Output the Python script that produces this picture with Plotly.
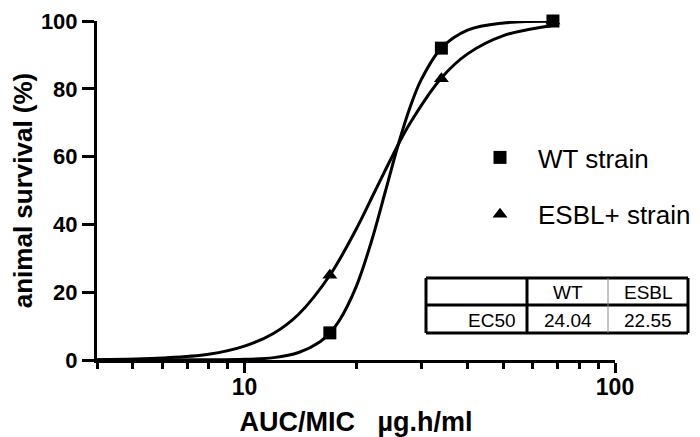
import plotly.graph_objects as go

# ---- data ----
dose = [17, 34, 68]
wt_survival = [8, 92, 100]
esbl_survival = [25, 83, 100]

# fitted dose-response curves
wt_curve_x = [4, 8, 10, 12, 14, 16, 17, 18, 20, 22, 24, 26, 28, 30, 34, 40, 50, 68]
wt_curve_y = [0, 0.04, 0.2, 0.7, 2.2, 5.4, 8, 11.5, 21.5, 34.9, 49.7, 63.5, 74.6, 82.7, 92, 97.3, 99.4, 99.9]
esbl_curve_x = [4, 6, 8, 10, 12, 14, 17, 20, 22.55, 25, 28, 34, 40, 50, 68]
esbl_curve_y = [0.1, 0.6, 1.7, 4.1, 7.9, 13.5, 25, 38.5, 50, 59.9, 69.9, 83.2, 90.3, 95.7, 98.7]

series_names = ["WT strain", "ESBL+ strain"]
table_header = ["", "WT", "ESBL"]
table_row_label = "EC50"
table_values = ["24.04", "22.55"]

y_ticks = [0, 20, 40, 60, 80, 100]
x_ticks = [10, 100]

# ---- layout geometry (pixels) ----
W, H = 700, 437
ML, MR, MT, MB = 89, 93, 13, 85
PW = W - ML - MR
PH = H - MT - MB


def px(xp):
    return (xp - ML) / PW


def py(yp):
    return (H - MB - yp) / PH


FONT = "Liberation Sans, Arial, sans-serif"

fig = go.Figure()

fig.add_trace(go.Scatter(x=wt_curve_x, y=wt_curve_y, mode="lines",
                         line=dict(color="black", width=3, shape="spline"),
                         showlegend=False, hoverinfo="skip", cliponaxis=False))
fig.add_trace(go.Scatter(x=esbl_curve_x, y=esbl_curve_y, mode="lines",
                         line=dict(color="black", width=3, shape="spline"),
                         showlegend=False, hoverinfo="skip", cliponaxis=False))
fig.add_trace(go.Scatter(x=dose, y=esbl_survival, mode="markers", name=series_names[1],
                         marker=dict(symbol="triangle-up", size=13, color="black"),
                         legendgroup="b", legendrank=2, cliponaxis=False))
fig.add_trace(go.Scatter(x=dose, y=wt_survival, mode="markers", name=series_names[0],
                         marker=dict(symbol="square", size=13, color="black"),
                         legendgroup="a", legendrank=1, cliponaxis=False))

fig.update_xaxes(type="log", range=[0.60206, 2], showline=True, linewidth=3, linecolor="black",
                 ticks="outside", ticklen=10, tickwidth=3, tickcolor="black",
                 tickvals=x_ticks, ticktext=[str(v) for v in x_ticks],
                 tickfont=dict(family=FONT, size=23, color="black", weight="bold"),
                 ticklabelstandoff=-6, ticklabeloverflow="allow",
                 minor=dict(ticks="outside", ticklen=6, tickwidth=3, tickcolor="black", dtick="D1"),
                 showgrid=False, zeroline=False,
                 title=dict(text="AUC/MIC\u00a0\u00a0 \u00b5g.h/ml", standoff=14,
                            font=dict(family=FONT, size=27, color="black", weight="bold")))
fig.update_yaxes(range=[0, 100], showline=True, linewidth=3, linecolor="black",
                 ticks="outside", ticklen=12, tickwidth=3, tickcolor="black",
                 tickvals=y_ticks, tickfont=dict(family=FONT, size=22, color="black", weight="bold"),
                 ticklabeloverflow="allow",
                 showgrid=False, zeroline=False,
                 title=dict(text="animal survival (%)", standoff=18,
                            font=dict(family=FONT, size=26, color="black", weight="bold")))

# ---- EC50 table ----
tx0, tx1, tx2, tx3 = 418, 519, 600, 680
ty0, ty1, ty2 = 270, 297, 325
thick = dict(color="black", width=3)
thin = dict(color="#888888", width=1)
for (a, b, c, d, ln) in [
    (tx0, ty0, tx3, ty0, thick), (tx0, ty1, tx3, ty1, thick), (tx0, ty2, tx3, ty2, thick),
    (tx0, ty0, tx0, ty2, thick), (tx1, ty0, tx1, ty2, thick), (tx3, ty0, tx3, ty2, thick),
    (tx2, ty0, tx2, ty2, thin)]:
    fig.add_shape(type="line", xref="paper", yref="paper", x0=px(a), y0=py(b), x1=px(c), y1=py(d),
                  line=ln)

tfont = dict(family=FONT, size=19, color="black")
ymid_h = py((ty0 + ty1) / 2 + 1)
ymid_r = py((ty1 + ty2) / 2 + 1)
cells = [
    (px((tx1 + tx2) / 2), ymid_h, table_header[1], "center"),
    (px((tx2 + tx3) / 2), ymid_h, table_header[2], "center"),
    (px(tx1 - 10), ymid_r, table_row_label, "right"),
    (px((tx1 + tx2) / 2), ymid_r, table_values[0], "center"),
    (px((tx2 + tx3) / 2), ymid_r, table_values[1], "center"),
]
for (cx, cy, txt, anc) in cells:
    fig.add_annotation(x=cx, y=cy, text=txt, showarrow=False, xanchor=anc, yanchor="middle",
                       xref="paper", yref="paper", font=tfont, borderpad=0)

fig.update_layout(
    width=W, height=H, margin=dict(l=ML, r=MR, t=MT, b=MB, autoexpand=False),
    paper_bgcolor="white", plot_bgcolor="white",
    legend=dict(x=px(454), y=py(126), xanchor="left", yanchor="top",
                font=dict(family=FONT, size=26, color="black"),
                bgcolor="rgba(0,0,0,0)", tracegroupgap=20, itemwidth=66,
                traceorder="grouped"),
)

fig.write_html("out.html")
